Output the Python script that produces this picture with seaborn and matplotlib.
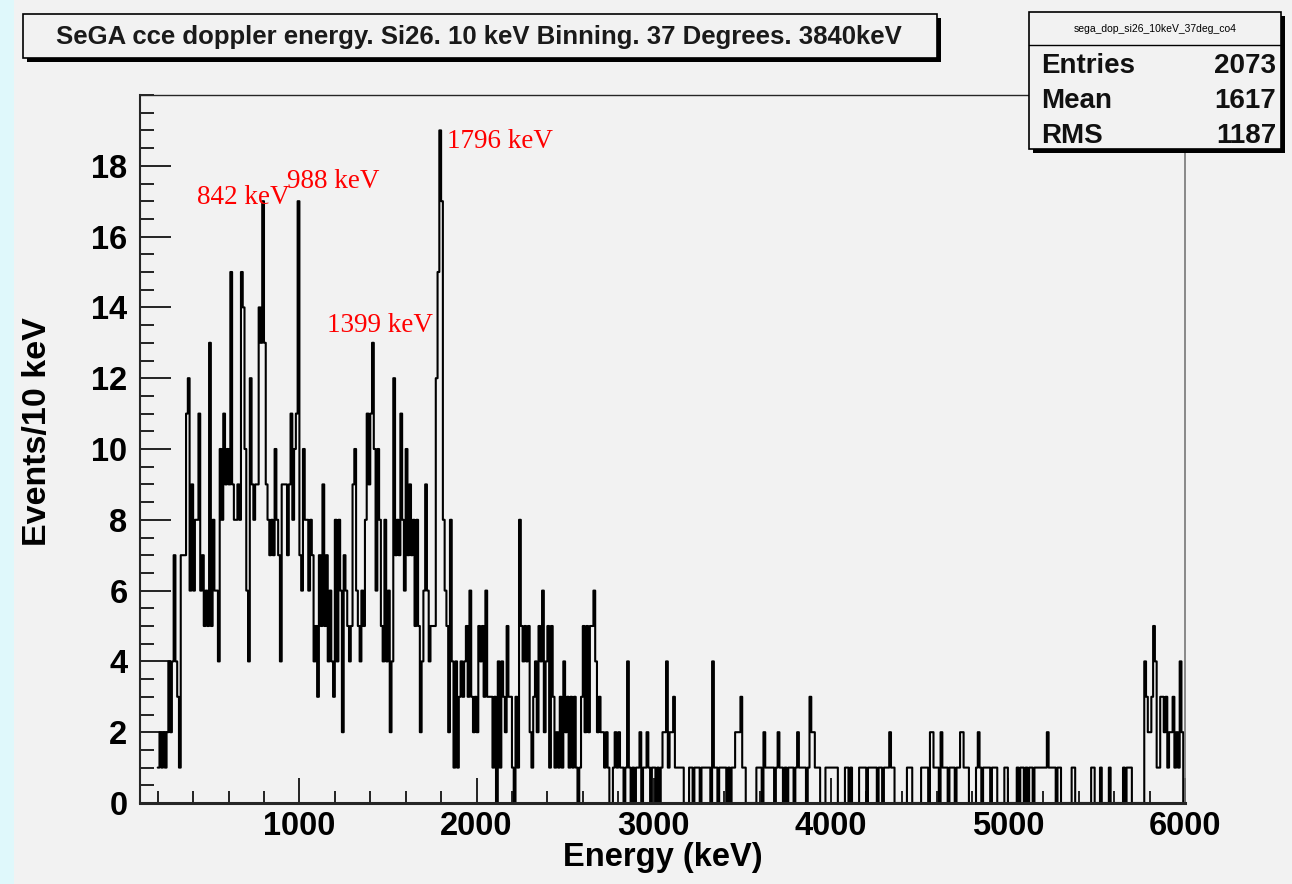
import numpy as np
import pandas as pd
import matplotlib
matplotlib.use("Agg")
import matplotlib.pyplot as plt
import seaborn as sns
from matplotlib.patches import Rectangle
from matplotlib.ticker import MultipleLocator, FixedLocator

# ── data: SeGA doppler-corrected energy, 10 keV bins starting at 200 keV ──
E_START = 200
BIN = 10
counts = [
    1, 2, 1, 2, 1, 2, 4, 2, 4, 7,        # 200
    4, 3, 1, 7, 7, 7, 11, 12, 6, 9,      # 300
    6, 8, 8, 11, 6, 7, 5, 6, 5, 13,      # 400
    5, 8, 6, 6, 4, 10, 8, 11, 9, 10,     # 500
    9, 15, 9, 8, 8, 9, 8, 15, 14, 10,    # 600
    6, 4, 12, 9, 8, 9, 9, 14, 13, 17,    # 700
    13, 9, 8, 7, 8, 7, 10, 8, 7, 4,      # 800
    9, 9, 9, 7, 9, 11, 8, 10, 11, 17,    # 900
    7, 6, 10, 8, 8, 6, 8, 7, 4, 5,       # 1000
    3, 7, 5, 9, 5, 7, 4, 6, 4, 3,        # 1100
    8, 4, 8, 6, 2, 7, 6, 5, 4, 5,        # 1200
    9, 10, 6, 5, 4, 6, 5, 8, 11, 9,      # 1300
    11, 13, 10, 6, 10, 8, 5, 4, 8, 4,    # 1400
    6, 2, 4, 12, 7, 8, 7, 11, 8, 6,      # 1500
    10, 7, 9, 7, 8, 5, 8, 5, 2, 4,       # 1600
    6, 9, 6, 4, 5, 5, 5, 12, 15, 19,     # 1700
    17, 8, 6, 5, 2, 8, 4, 1, 4, 1,       # 1800
    3, 4, 3, 4, 5, 3, 6, 3, 2, 3,        # 1900
    2, 5, 4, 5, 3, 6, 3, 3, 3, 1,        # 2000
    3, 0, 4, 1, 4, 3, 2, 5, 3, 3,        # 2100
    1, 0, 3, 1, 8, 5, 4, 5, 4, 5,        # 2200
    2, 1, 3, 4, 2, 5, 4, 6, 2, 4,        # 2300
    5, 1, 5, 3, 1, 2, 1, 3, 1, 4,        # 2400
    2, 3, 1, 3, 1, 3, 1, 0, 1, 3,        # 2500
    5, 2, 5, 2, 5, 5, 6, 4, 2, 3,        # 2600
    2, 2, 1, 2, 1, 0, 0, 1, 2, 1,        # 2700
    2, 1, 1, 0, 1, 4, 1, 0, 1, 0,        # 2800
    1, 1, 2, 0, 1, 1, 2, 1, 0, 1,        # 2900
    1, 0, 1, 0, 1, 2, 2, 4, 1, 2,        # 3000
    2, 3, 1, 1, 1, 1, 1, 0, 0, 0,        # 3100
    1, 1, 0, 1, 1, 1, 0, 1, 1, 1,        # 3200
    1, 1, 0, 4, 1, 1, 0, 1, 1, 1,        # 3300
    1, 0, 1, 0, 1, 1, 2, 2, 2, 3,        # 3400
    1, 1, 0, 0, 0, 0, 0, 0, 1, 1,        # 3500
    1, 0, 2, 1, 1, 1, 1, 1, 0, 1,        # 3600
    2, 1, 1, 0, 1, 0, 1, 1, 1, 0,        # 3700
    1, 2, 1, 1, 1, 1, 0, 1, 3, 2,        # 3800
    2, 1, 1, 1, 0, 0, 0, 1, 1, 1,        # 3900
    1, 1, 1, 1, 0, 0, 0, 0, 1, 1,        # 4000
    0, 1, 0, 0, 0, 0, 1, 1, 1, 1,        # 4100
    0, 1, 1, 1, 1, 1, 0, 1, 1, 0,        # 4200
    1, 1, 1, 2, 1, 1, 0, 0, 0, 0,        # 4300
    0, 0, 0, 1, 1, 1, 0, 0, 0, 0,        # 4400
    0, 1, 1, 1, 1, 0, 2, 2, 1, 1,        # 4500
    1, 0, 2, 1, 1, 1, 0, 1, 1, 1,        # 4600
    0, 1, 1, 2, 2, 1, 1, 1, 0, 0,        # 4700
    0, 0, 1, 2, 1, 0, 1, 1, 1, 1,        # 4800
    0, 1, 1, 1, 0, 0, 0, 0, 1, 1,        # 4900
    0, 0, 0, 0, 0, 1, 0, 1, 1, 0,        # 5000
    1, 0, 1, 1, 0, 1, 1, 1, 1, 1,        # 5100
    1, 1, 2, 1, 1, 1, 1, 0, 1, 1,        # 5200
    0, 0, 0, 0, 0, 0, 1, 1, 0, 0,        # 5300
    0, 0, 0, 0, 0, 0, 0, 1, 1, 0,        # 5400
    0, 0, 1, 0, 0, 0, 0, 1, 0, 0,        # 5500
    0, 0, 0, 0, 0, 1, 0, 1, 1, 1,        # 5600
    0, 0, 0, 0, 0, 0, 0, 4, 3, 2,        # 5700
    2, 3, 5, 4, 1, 1, 3, 3, 2, 3,        # 5800
    1, 2, 2, 3, 1, 2, 1, 4, 2, 0,        # 5900
]

peak_labels = ["842 keV", "988 keV", "1399 keV", "1796 keV"]
title_text = "SeGA cce doppler energy. Si26. 10 keV Binning. 37 Degrees. 3840keV"
stats_name = "sega_dop_si26_10keV_37deg_co4"
stats_rows = [("Entries", "2073"), ("Mean", "1617"), ("RMS", "1187")]

edges = [E_START + BIN * i for i in range(len(counts) + 1)]
df = pd.DataFrame({"energy": [e + BIN / 2 for e in edges[:-1]],
                   "counts": counts})

# ── figure ──
W, H = 1292, 884
BG = "#f2f2f2"
sns.set_theme(style="ticks")
plt.rcParams["font.family"] = ["Liberation Sans", "DejaVu Sans"]

fig = plt.figure(figsize=(W / 100, H / 100), dpi=100, facecolor=BG)


def fx(px):
    return px / W


def fy(py):
    return 1 - py / H


# slide edge strip on the left
fig.patches.append(Rectangle((0, 0), fx(14), 1, transform=fig.transFigure,
                             facecolor="#dff8fb", edgecolor="none", zorder=0))

ax = fig.add_axes([fx(140), fy(803), fx(1185) - fx(140), fy(95) - fy(803)])
ax.set_facecolor(BG)

sns.histplot(data=df, x="energy", weights="counts", bins=edges, element="step",
             fill=False, color="black", linewidth=1.5, ax=ax)

ax.set_xlim(100, 6000)
ax.set_ylim(0, 20)
ax.xaxis.set_major_locator(FixedLocator([1000, 2000, 3000, 4000, 5000, 6000]))
ax.xaxis.set_minor_locator(MultipleLocator(200))
ax.yaxis.set_major_locator(FixedLocator(list(range(0, 19, 2))))
ax.yaxis.set_minor_locator(MultipleLocator(0.5))
ax.tick_params(axis="both", which="both", direction="in", color="black", width=1.2,
               labelcolor="black")
ax.tick_params(axis="y", which="major", length=22, pad=9)
ax.tick_params(axis="y", which="minor", length=10)
ax.tick_params(axis="x", which="major", length=18, pad=6)
ax.tick_params(axis="x", which="minor", length=9)
for lab in ax.get_xticklabels() + ax.get_yticklabels():
    lab.set_fontsize(23.5)
    lab.set_fontweight("bold")

ax.spines["left"].set_linewidth(1.5)
ax.spines["bottom"].set_linewidth(2.2)
ax.spines["top"].set_linewidth(1.0)
ax.spines["right"].set_linewidth(1.2)
ax.spines["right"].set_color("#777777")

ax.set_xlabel("Energy (keV)", fontsize=23.5, fontweight="bold", labelpad=0,
              color="black")
ax.set_ylabel("Events/10 keV", fontsize=24.5, fontweight="bold", color="black")
ax.yaxis.set_label_coords(-0.083, 0.525)

# peak annotations (red, serif)
red_font = dict(color="red", fontsize=19.5, family=["Liberation Serif", "DejaVu Serif"])
fig.text(fx(197), fy(197), peak_labels[0], va="center", ha="left", **red_font)
fig.text(fx(287), fy(181), peak_labels[1], va="center", ha="left", **red_font)
fig.text(fx(327), fy(325), peak_labels[2], va="center", ha="left", **red_font)
fig.text(fx(447), fy(142), peak_labels[3], va="center", ha="left", **red_font)


# title box with shadow
def shadow_box(x0, y0, x1, y1):
    fig.patches.append(Rectangle((fx(x0 + 4), fy(y1 + 4)), fx(x1 - x0), fy(y0) - fy(y1),
                                 transform=fig.transFigure, facecolor="black",
                                 edgecolor="none", zorder=5))
    fig.patches.append(Rectangle((fx(x0), fy(y1)), fx(x1 - x0), fy(y0) - fy(y1),
                                 transform=fig.transFigure, facecolor=BG,
                                 edgecolor="black", linewidth=1.2, zorder=6))


shadow_box(23, 14, 937, 58)
fig.text(fx(479), fy(37), title_text, ha="center", va="center", fontsize=18.5,
         fontweight="bold", color="#1a1a1a", zorder=7)

# stats box
shadow_box(1029, 12, 1281, 149)
fig.lines.append(plt.Line2D([fx(1029), fx(1281)], [fy(45), fy(45)],
                            transform=fig.transFigure, color="black", lw=1.0, zorder=7))
fig.text(fx(1155), fy(29), stats_name, ha="center", va="center", fontsize=7.5,
         color="black", zorder=7)
for i, (k, v) in enumerate(stats_rows):
    yy = 66 + i * 35
    fig.text(fx(1041), fy(yy), k, ha="left", va="center", fontsize=20,
             fontweight="bold", color="#111111", zorder=7)
    fig.text(fx(1276), fy(yy), v, ha="right", va="center", fontsize=20,
             fontweight="bold", color="#111111", zorder=7)

fig.savefig("out.png", dpi=100, facecolor=BG)
